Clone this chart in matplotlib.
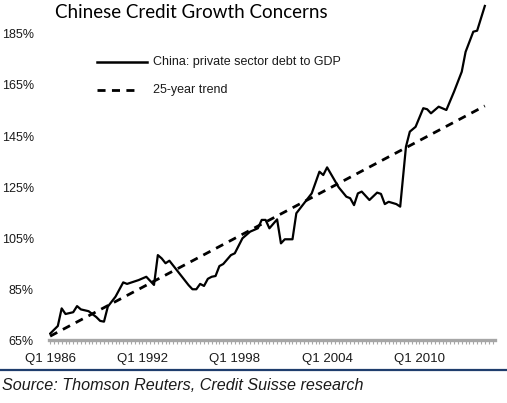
import matplotlib
matplotlib.use("Agg")
import matplotlib.pyplot as plt
import numpy as np

# quarters counted from Q1 1986
quarters = [0, 2, 3, 4, 6, 7, 8, 10, 12, 13, 14, 15, 17, 19, 20, 23, 25, 27,
            28, 29, 30, 31, 36, 37, 38, 39, 40, 41, 42, 43, 44, 45, 47, 48,
            50, 52, 54, 55, 56, 57, 59, 60, 61, 63, 64, 66, 68, 70, 71, 72,
            75, 77, 78, 79, 80, 81, 83, 85, 86, 87, 88, 90, 91, 92.5, 93.5,
            95, 97, 98, 99, 101, 103, 105, 107, 108, 110, 111, 113]
debt_to_gdp = [67.5, 70.5, 77.4, 75.2, 75.9, 78.3, 77.0, 76.3, 74.0, 72.5,
               72.2, 78.1, 82.0, 87.6, 87.0, 88.5, 89.8, 86.6, 98.3, 97.0,
               95.1, 96.1, 86.5, 84.9, 84.9, 87.0, 86.2, 89.0, 89.8, 90.1,
               94.0, 94.8, 98.3, 99.0, 104.9, 107.5, 108.8, 112.1, 112.1,
               108.8, 112.3, 102.9, 104.5, 104.5, 114.7, 118.6, 122.5, 131.0,
               129.7, 132.7, 124.9, 121.2, 120.6, 117.9, 122.5, 123.2, 119.9,
               122.8, 122.3, 118.3, 119.2, 118.3, 117.3, 140.8, 146.7, 148.6,
               155.9, 155.5, 153.9, 156.5, 155.2, 162.4, 170.2, 178.0, 185.9,
               186.3, 196.0]

trend_quarters = [0, 113]
trend_values = [66.5, 156.8]

y_ticks = [65, 85, 105, 125, 145, 165, 185]
x_tick_pos = [0, 24, 48, 72, 96]
x_tick_labels = ["Q1 1986", "Q1 1992", "Q1 1998", "Q1 2004", "Q1 2010"]

plt.rcParams['font.family'] = ['Liberation Sans', 'DejaVu Sans']
text_color = '#1a1a1a'
dash_style = (2.9, 2.3)

fig = plt.figure(figsize=(5.07, 4.03), dpi=100)
ax = fig.add_axes([0.0966, 0.1563, 0.8794, 0.8416])

ax.plot(quarters, debt_to_gdp, color='black', lw=1.6, solid_joinstyle='round')
ax.plot(trend_quarters, trend_values, color='black', lw=2.0, dashes=dash_style)

ax.set_xlim(-0.3, 115.6)
ax.set_ylim(65, 198)

for s in ['left', 'right', 'top']:
    ax.spines[s].set_visible(False)
ax.spines['bottom'].set_color('#a6a6a6')
ax.spines['bottom'].set_linewidth(2.4)

ax.set_yticks(y_ticks)
ax.set_yticklabels([f"{v}%" for v in y_ticks], fontsize=9, color=text_color)
ax.tick_params(axis='y', length=0, pad=11)

ax.set_xticks(x_tick_pos)
ax.set_xticklabels(x_tick_labels, fontsize=9.5, color=text_color)
ax.set_xticks(np.arange(0, 116), minor=True)
ax.tick_params(axis='x', which='both', direction='out', length=3,
               width=0.8, color='#a6a6a6', pad=6)

# legend drawn by hand like the original
ax.plot([0.107, 0.219], [0.82, 0.82], transform=ax.transAxes, color='black', lw=1.8)
ax.plot([0.108, 0.193], [0.737, 0.737], transform=ax.transAxes, color='black', lw=2.0,
        dashes=dash_style)
ax.text(0.234, 0.82, "China: private sector debt to GDP", transform=ax.transAxes,
        fontsize=9, color=text_color, va='center')
ax.text(0.234, 0.737, "25-year trend", transform=ax.transAxes,
        fontsize=9, color=text_color, va='center')

fig.text(55 / 507, 1 - 13 / 403, "Chinese Credit Growth Concerns",
         family=['Lato', 'DejaVu Sans'], fontsize=13.5, color='black', va='center')

fig.add_artist(plt.Line2D([0, 506 / 507], [1 - 369.5 / 403] * 2, color='#1f3d6d', lw=1.6))
fig.text(2 / 507, 1 - 385 / 403, "Source: Thomson Reuters, Credit Suisse research",
         fontsize=11.6, style='italic', color=text_color, va='center')

fig.savefig("out.png", dpi=100)
